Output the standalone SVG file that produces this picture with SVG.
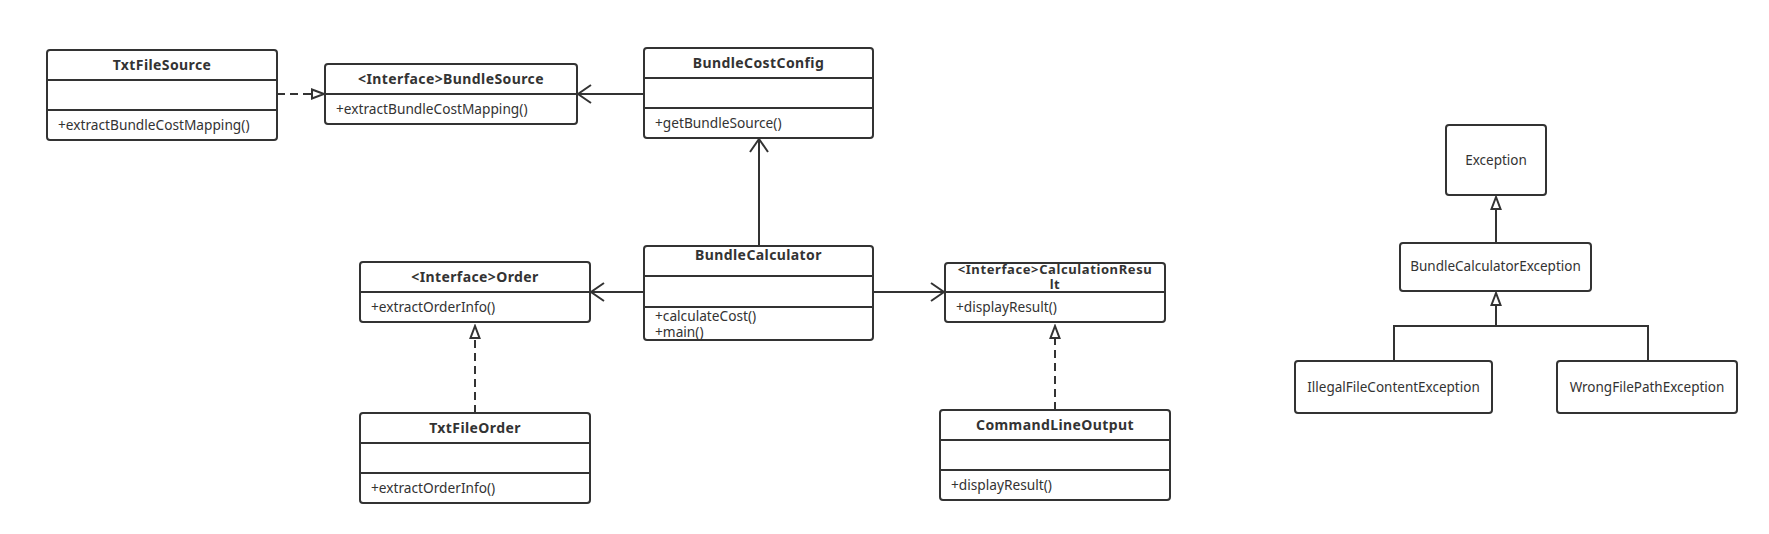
<svg xmlns="http://www.w3.org/2000/svg" width="1769" height="534" viewBox="0 0 1769 534">
<style>
.box{fill:#fff;stroke:#333;stroke-width:2}
.div{stroke:#333;stroke-width:2}
.t{font-family:"Noto Sans","DejaVu Sans",sans-serif;font-size:14px;font-weight:bold;letter-spacing:0.4px;fill:#333;text-anchor:middle}
.t2{font-size:13px;letter-spacing:0.6px}
.m{font-family:"Noto Sans","DejaVu Sans",sans-serif;font-size:13.7px;fill:#333}
.c{font-family:"Noto Sans","DejaVu Sans",sans-serif;font-size:13.5px;fill:#333;text-anchor:middle}
.ln{fill:none;stroke:#333;stroke-width:2}
.dash{stroke-dasharray:8 5}
</style>
<defs>
<marker id="open" viewBox="-15 -11 17 22" refX="0" refY="0" markerWidth="17" markerHeight="22" markerUnits="userSpaceOnUse" orient="auto">
<path d="M-13,-9 L0,0 L-13,9" fill="none" stroke="#333" stroke-width="2" stroke-dasharray="none"/>
</marker>
<marker id="tri" viewBox="-15 -7 17 14" refX="0" refY="0" markerWidth="17" markerHeight="14" markerUnits="userSpaceOnUse" orient="auto">
<path d="M0,0 L-12,-4.5 L-12,4.5 Z" fill="#fff" stroke="#333" stroke-width="2" stroke-dasharray="none"/>
</marker>
</defs>
<rect width="1769" height="534" fill="#fff"/>
<g id="connectors">
<line class="ln dash" x1="277" y1="94" x2="324" y2="94" marker-end="url(#tri)"/>
<line class="ln" x1="644" y1="94" x2="578" y2="94" marker-end="url(#open)"/>
<line class="ln" x1="759" y1="246" x2="759" y2="139" marker-end="url(#open)"/>
<line class="ln" x1="644" y1="292" x2="591" y2="292" marker-end="url(#open)"/>
<line class="ln" x1="873" y1="292" x2="944" y2="292" marker-end="url(#open)"/>
<line class="ln dash" x1="475" y1="413" x2="475" y2="326" marker-end="url(#tri)"/>
<line class="ln dash" x1="1055" y1="410" x2="1055" y2="326" marker-end="url(#tri)"/>
<line class="ln" x1="1496" y1="243" x2="1496" y2="197" marker-end="url(#tri)"/>
<polyline class="ln" points="1394,361 1394,326 1648,326 1648,361"/>
<line class="ln" x1="1496" y1="326" x2="1496" y2="293" marker-end="url(#tri)"/>
</g>
<g id="TxtFileSource">
<rect class="box" x="47" y="50" width="230" height="90" rx="3"/>
<line class="div" x1="47" y1="80" x2="277" y2="80"/>
<line class="div" x1="47" y1="110" x2="277" y2="110"/>
<text class="t" x="162" y="70">TxtFileSource</text>
<text class="m" x="58" y="130">+extractBundleCostMapping()</text>
</g>
<g id="BundleSource">
<rect class="box" x="325" y="64" width="252" height="60" rx="3"/>
<line class="div" x1="325" y1="94" x2="577" y2="94"/>
<text class="t" x="451" y="84">&lt;Interface&gt;BundleSource</text>
<text class="m" x="336" y="114">+extractBundleCostMapping()</text>
</g>
<g id="BundleCostConfig">
<rect class="box" x="644" y="48" width="229" height="90" rx="3"/>
<line class="div" x1="644" y1="78" x2="873" y2="78"/>
<line class="div" x1="644" y1="108" x2="873" y2="108"/>
<text class="t" x="758.5" y="68">BundleCostConfig</text>
<text class="m" x="655" y="128">+getBundleSource()</text>
</g>
<g id="BundleCalculator">
<rect class="box" x="644" y="246" width="229" height="94" rx="3"/>
<line class="div" x1="644" y1="276" x2="873" y2="276"/>
<line class="div" x1="644" y1="307" x2="873" y2="307"/>
<text class="t" x="758.5" y="260">BundleCalculator</text>
<text class="m" x="655" y="321">+calculateCost()</text>
<text class="m" x="655" y="336.5">+main()</text>
</g>
<g id="Order">
<rect class="box" x="360" y="262" width="230" height="60" rx="3"/>
<line class="div" x1="360" y1="292" x2="590" y2="292"/>
<text class="t" x="475" y="282">&lt;Interface&gt;Order</text>
<text class="m" x="371" y="312">+extractOrderInfo()</text>
</g>
<g id="CalculationResult">
<rect class="box" x="945" y="263" width="220" height="59" rx="3"/>
<line class="div" x1="945" y1="292" x2="1165" y2="292"/>
<text class="t t2" x="1055" y="273.5">&lt;Interface&gt;CalculationResu</text>
<text class="t t2" x="1055" y="288.5">lt</text>
<text class="m" x="956" y="312">+displayResult()</text>
</g>
<g id="TxtFileOrder">
<rect class="box" x="360" y="413" width="230" height="90" rx="3"/>
<line class="div" x1="360" y1="443" x2="590" y2="443"/>
<line class="div" x1="360" y1="473" x2="590" y2="473"/>
<text class="t" x="475" y="432.5">TxtFileOrder</text>
<text class="m" x="371" y="493">+extractOrderInfo()</text>
</g>
<g id="CommandLineOutput">
<rect class="box" x="940" y="410" width="230" height="90" rx="3"/>
<line class="div" x1="940" y1="440" x2="1170" y2="440"/>
<line class="div" x1="940" y1="470" x2="1170" y2="470"/>
<text class="t" x="1055" y="430">CommandLineOutput</text>
<text class="m" x="951" y="490">+displayResult()</text>
</g>
<g id="Exception">
<rect class="box" x="1446" y="125" width="100" height="70" rx="3"/>
<text class="c" x="1496" y="165">Exception</text>
</g>
<g id="BundleCalculatorException">
<rect class="box" x="1400" y="243" width="191" height="48" rx="3"/>
<text class="c" x="1495.5" y="271">BundleCalculatorException</text>
</g>
<g id="IllegalFileContentException">
<rect class="box" x="1295" y="361" width="197" height="52" rx="3"/>
<text class="c" x="1393.5" y="392">IllegalFileContentException</text>
</g>
<g id="WrongFilePathException">
<rect class="box" x="1557" y="361" width="180" height="52" rx="3"/>
<text class="c" x="1647" y="392">WrongFilePathException</text>
</g>
</svg>
